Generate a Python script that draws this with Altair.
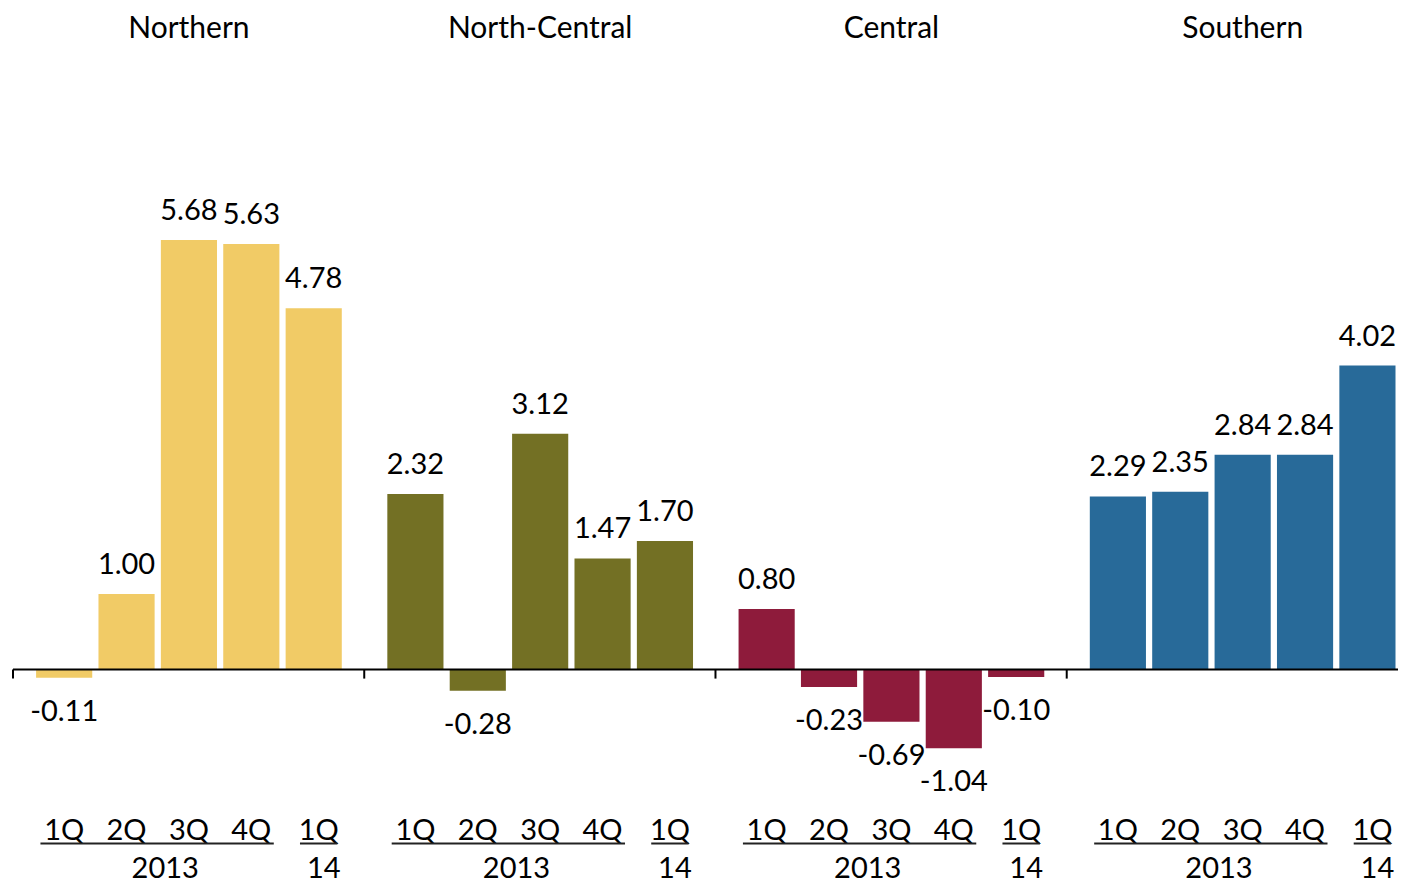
import altair as alt
import pandas as pd

# ---- data ----
regions = ["Northern", "North-Central", "Central", "Southern"]
quarters = ["1Q", "2Q", "3Q", "4Q", "1Q"]
years = ["2013", "14"]
colors = ["#F1CB66", "#737024", "#8E1B3B", "#286A99"]
northern = [-0.11, 1.00, 5.68, 5.63, 4.78]
north_central = [2.32, -0.28, 3.12, 1.47, 1.70]
central = [0.80, -0.23, -0.69, -1.04, -0.10]
southern = [2.29, 2.35, 2.84, 2.84, 4.02]
series = [northern, north_central, central, southern]

# ---- layout constants (in bar-step units / value units) ----
GROUP = 5.63      # width of one region group
FIRST = 0.82      # centre of first bar inside a group
HALF = 0.45       # half bar width
X_MAX = 22.2
Y_MIN, Y_MAX = -2.837, 8.75
TITLE_Y, QUARTER_Y, ULINE_Y, YEAR_Y, TICK_Y = 8.467, -2.135, -2.30, -2.634, -0.12
FONT = "Lato"
FS = 29

rows = []
for g, (reg, vals) in enumerate(zip(regions, series)):
    for i, v in enumerate(vals):
        p = g * GROUP + FIRST + i
        rows.append(dict(region=reg, q=quarters[i], value=v, zero=0.0, pos=p,
                         x0=p - HALF, x1=p + HALF, label=f"{v:.2f}"))
bars = pd.DataFrame(rows)

qrows, urows, yrows, trows, tick_rows = [], [], [], [], []
for g, reg in enumerate(regions):
    base = g * GROUP + FIRST
    tick_rows.append(dict(x=g * GROUP, y=0.0, y2=TICK_Y))
    trows.append(dict(text=reg, x=base + 2, y=TITLE_Y))
    for i, q in enumerate(quarters):
        qrows.append(dict(text=q, x=base + i + (0.08 if i == 4 else 0), y=QUARTER_Y))
    urows.append(dict(x=base - 0.38, x2=base + 3 + 0.36, y=ULINE_Y))
    urows.append(dict(x=base + 4 + 0.08 - 0.3, x2=base + 4 + 0.08 + 0.3, y=ULINE_Y))
    yrows.append(dict(text=years[0], x=base + 1.5 + 0.12, y=YEAR_Y))
    yrows.append(dict(text=years[1], x=base + 4 + 0.16, y=YEAR_Y))

qdf = pd.DataFrame(qrows)
udf = pd.DataFrame(urows)
ydf = pd.DataFrame(yrows)
tdf = pd.DataFrame(trows)
tickdf = pd.DataFrame(tick_rows)
zdf = pd.DataFrame([dict(x=0.0, x2=X_MAX, y=0.0)])

xs = alt.Scale(domain=[0, X_MAX], nice=False, zero=False)
ys = alt.Scale(domain=[Y_MIN, Y_MAX], nice=False, zero=False)


def X(f):
    return alt.X(f, type="quantitative", scale=xs, axis=None)


def Y(f):
    return alt.Y(f, type="quantitative", scale=ys, axis=None)


bar_layer = alt.Chart(bars).mark_bar().encode(
    x=X("x0"), x2="x1", y=Y("value"), y2="zero",
    color=alt.Color("region:N", scale=alt.Scale(domain=regions, range=colors), legend=None),
)

pos_labels = alt.Chart(bars).transform_filter("datum.value >= 0").mark_text(
    font=FONT, fontSize=FS, baseline="middle", dy=-29, color="black"
).encode(x=X("pos"), y=Y("value"), text="label")

neg_labels = alt.Chart(bars).transform_filter("datum.value < 0").mark_text(
    font=FONT, fontSize=FS, baseline="middle", dy=34, color="black"
).encode(x=X("pos"), y=Y("value"), text="label")

zero_line = alt.Chart(zdf).mark_rule(color="black", strokeWidth=2).encode(
    x=X("x"), x2="x2", y=Y("y")
)

ticks = alt.Chart(tickdf).mark_rule(color="black", strokeWidth=2).encode(
    x=X("x"), y=Y("y"), y2="y2"
)

titles = alt.Chart(tdf).mark_text(font=FONT, fontSize=30, baseline="middle", color="black").encode(
    x=X("x"), y=Y("y"), text="text"
)

qlabels = alt.Chart(qdf).mark_text(font=FONT, fontSize=FS, baseline="middle", color="black").encode(
    x=X("x"), y=Y("y"), text="text"
)

underlines = alt.Chart(udf).mark_rule(color="#222222", strokeWidth=2).encode(
    x=X("x"), x2="x2", y=Y("y")
)

ylabels = alt.Chart(ydf).mark_text(font=FONT, fontSize=FS, baseline="middle", color="black").encode(
    x=X("x"), y=Y("y"), text="text"
)

chart = alt.layer(
    bar_layer, zero_line, ticks, pos_labels, neg_labels, titles, qlabels, underlines, ylabels
).properties(
    width=1385, height=876,
    autosize=alt.AutoSizeParams(type="none"),
    padding={"left": 5, "top": 0, "right": 0, "bottom": 0},
).configure_view(stroke=None)

chart.save("out.html", embed_options={"renderer": "svg", "actions": False})
